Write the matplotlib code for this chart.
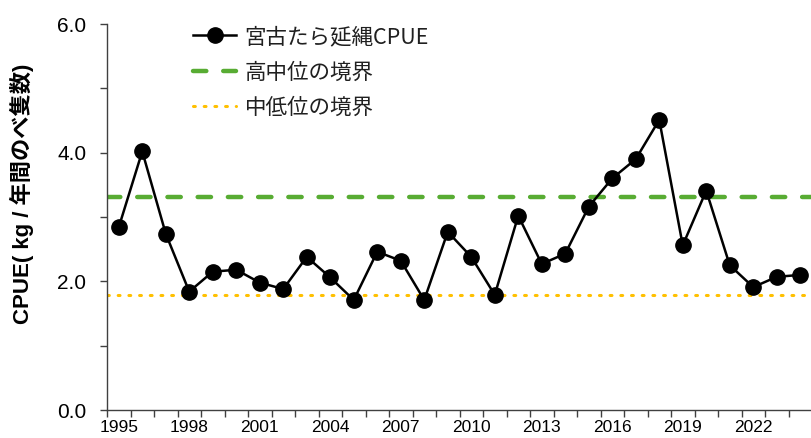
import numpy as np
import matplotlib
matplotlib.use("Agg")
import matplotlib.pyplot as plt
from matplotlib.ticker import FixedLocator, NullFormatter, FixedFormatter

plt.rcParams['font.family'] = ['Liberation Sans', 'Noto Sans CJK JP', 'DejaVu Sans']

# === データ ===
years = list(range(1995, 2025))
cpue = [2.84, 4.02, 2.74, 1.84, 2.15, 2.18, 1.98, 1.88, 2.38, 2.06,
        1.71, 2.46, 2.32, 1.71, 2.77, 2.38, 1.79, 3.02, 2.27, 2.43,
        3.16, 3.60, 3.90, 4.51, 2.56, 3.41, 2.25, 1.91, 2.07, 2.10]
high_mid = 3.31   # 高中位の境界
mid_low = 1.78    # 中低位の境界
label_years = [1995, 1998, 2001, 2004, 2007, 2010, 2013, 2016, 2019, 2022]

# === 図 ===
fig = plt.figure(figsize=(8.12, 4.38), dpi=100)
ax = fig.add_axes([107/812, 1 - 410/438, 705/812, 386/438])

ax.plot([1994.5, 2024.5], [high_mid, high_mid], color="#58AC33", lw=3.2,
        dashes=(3.0, 3.8), dash_capstyle="round", label="高中位の境界", zorder=2)
ax.plot([1994.5, 2024.5], [mid_low, mid_low], color="#FFC000", lw=2.2,
        dashes=(0.6, 2.9), dash_capstyle="round", label="中低位の境界", zorder=2)
ax.plot(years, cpue, color="black", lw=1.8, marker="o", markersize=11,
        label="宮古たら延縄CPUE", zorder=3)

ax.set_xlim(1994.5, 2024.5)
ax.set_ylim(0, 6)

# y軸
ax.yaxis.set_major_locator(FixedLocator([0, 2, 4, 6]))
ax.yaxis.set_minor_locator(FixedLocator([1, 3, 5]))
ax.set_yticklabels(["0.0", "2.0", "4.0", "6.0"])
ax.tick_params(axis="y", which="both", direction="out", length=5, width=1,
               labelsize=15, pad=10, colors="#404040", labelcolor="black")

# x軸: 目盛は年の境界、ラベルは3年おき
ax.xaxis.set_major_locator(FixedLocator(np.arange(1994.5, 2025, 1)))
ax.xaxis.set_major_formatter(NullFormatter())
ax.xaxis.set_minor_locator(FixedLocator(label_years))
ax.xaxis.set_minor_formatter(FixedFormatter([str(y) for y in label_years]))
ax.tick_params(axis="x", which="major", direction="out", length=5, width=1, colors="#404040")
ax.tick_params(axis="x", which="minor", length=0, labelsize=12.5, pad=7, labelcolor="black")

for s in ["top", "right"]:
    ax.spines[s].set_visible(False)
for s in ["left", "bottom"]:
    ax.spines[s].set_color("#404040")
    ax.spines[s].set_linewidth(1)

ax.set_ylabel("CPUE( kg / 年間のべ隻数)", fontsize=16, fontweight="bold",
              family=["Liberation Sans", "Noto Sans CJK JP"])
ax.yaxis.set_label_coords(-0.104, 0.561)

handles, labels = ax.get_legend_handles_labels()
order = [2, 0, 1]
leg = fig.legend([handles[i] for i in order], [labels[i] for i in order],
                 loc="upper left", bbox_to_anchor=(193/812, 1 - 26/438),
                 frameon=False, handlelength=2.0, handletextpad=0.4,
                 labelspacing=0.62, borderpad=0, borderaxespad=0,
                 prop={"family": ["Noto Sans CJK JP"], "size": 15.5})
for t in leg.get_texts():
    t.set_color("#202020")

fig.savefig("out.png", dpi=100)
